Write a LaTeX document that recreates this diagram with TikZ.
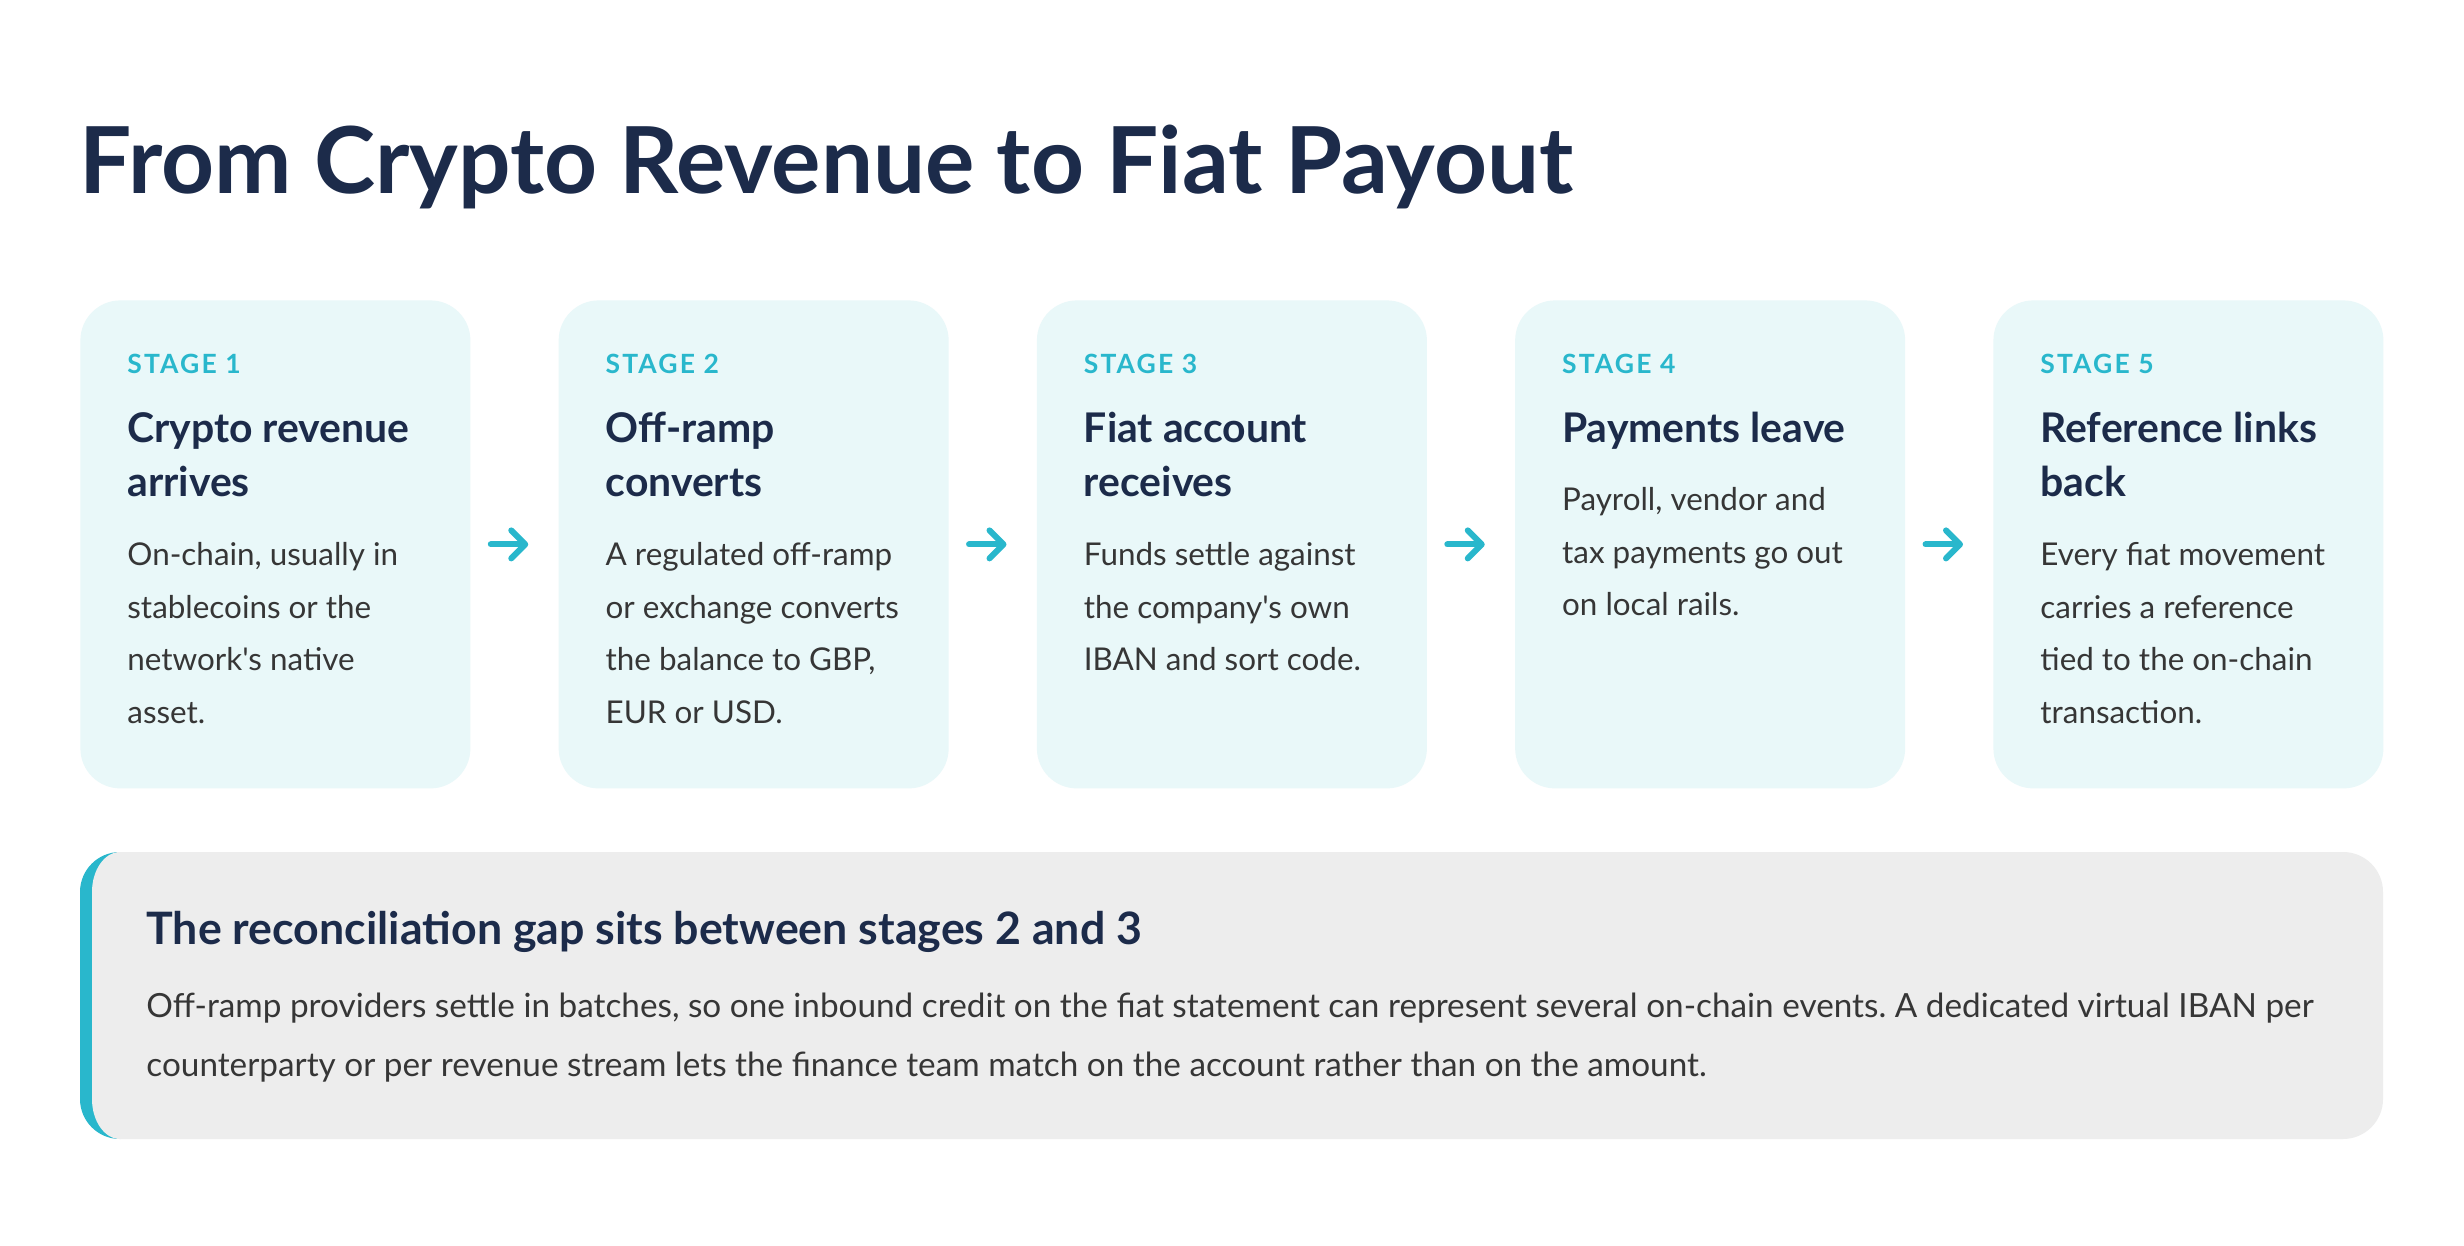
\documentclass[tikz,border=0pt]{standalone}
\usepackage{fontspec}
\setmainfont{Lato}[Ligatures=TeXOff]
\newfontfamily\stagefont[LetterSpace=8]{Lato}
\usetikzlibrary{arrows.meta}
\definecolor{accent}{HTML}{29B7CC}
\definecolor{cardfill}{HTML}{E9F8F9}
\definecolor{navy}{HTML}{1C2B4A}
\definecolor{bodytext}{HTML}{363636}
\definecolor{boxfill}{HTML}{EDEDED}
\frenchspacing
\begin{document}
\frenchspacing
\begin{tikzpicture}[x=0.5pt,y=-0.5pt,
  card/.style={fill=cardfill, draw=none, rounded corners=20pt, minimum width=195pt, minimum height=244pt, inner sep=0pt, anchor=north west},
  stagelbl/.style={anchor=base west, inner sep=0pt, text=accent, font=\stagefont\bfseries\fontsize{13.25pt}{16pt}\selectfont},
  head/.style={anchor=base west, inner sep=0pt, text=navy, font=\bfseries\fontsize{20.45pt}{24pt}\selectfont},
  body/.style={anchor=base west, inner sep=0pt, text=bodytext, font=\fontsize{15.7pt}{19pt}\selectfont},
  gaphead/.style={anchor=base west, inner sep=0pt, text=navy, font=\bfseries\fontsize{22.35pt}{26pt}\selectfont},
  gapbody/.style={anchor=base west, inner sep=0pt, text=bodytext, font=\fontsize{16.65pt}{20pt}\selectfont},
  flow/.style={draw=accent, line width=3pt, line cap=round, line join=round, -{Straight Barb[length=7pt,width=14pt,round]}}
]
\useasboundingbox[fill=white] (0,0) rectangle (2464,1246);

% title
\node[anchor=base west, inner sep=0pt, text=navy, font=\bfseries\fontsize{46.2pt}{50pt}\selectfont] (title) at (79,194) {From Crypto Revenue to Fiat Payout};

% cards
\foreach \i/\x in {1/80, 2/558.25, 3/1036.5, 4/1514.75, 5/1993} {
  \node[card] (c\i) at (\x,300) {};
}
\foreach \a/\b in {1/2, 2/3, 3/4, 4/5} {
  \draw[flow] ([xshift=10pt]c\a.east) -- ([xshift=-15pt]c\b.west);
}

% card 1
\node[stagelbl] (s1) at (127,373) {STAGE 1};
\node[head] (h1a) at (127,442) {Crypto revenue};
\node[head] (h1b) at (127,496) {arrives};
\node[body] (b1a) at (127,565) {On-chain, usually in};
\node[body] (b1b) at (127,618) {stablecoins or the};
\node[body] (b1c) at (127,670) {network's native};
\node[body] (b1d) at (127,723) {asset.};

% card 2
\node[stagelbl] (s2) at (605.25,373) {STAGE 2};
\node[head] (h2a) at (605.25,442) {Off-ramp};
\node[head] (h2b) at (605.25,496) {converts};
\node[body] (b2a) at (605.25,565) {A regulated off-ramp};
\node[body] (b2b) at (605.25,618) {or exchange converts};
\node[body] (b2c) at (605.25,670) {the balance to GBP,};
\node[body] (b2d) at (605.25,723) {EUR or USD.};

% card 3
\node[stagelbl] (s3) at (1083.5,373) {STAGE 3};
\node[head] (h3a) at (1083.5,442) {Fiat account};
\node[head] (h3b) at (1083.5,496) {receives};
\node[body] (b3a) at (1083.5,565) {Funds settle against};
\node[body] (b3b) at (1083.5,618) {the company's own};
\node[body] (b3c) at (1083.5,670) {IBAN and sort code.};

% card 4
\node[stagelbl] (s4) at (1561.75,373) {STAGE 4};
\node[head] (h4a) at (1561.75,442) {Payments leave};
\node[body] (b4a) at (1561.75,510) {Payroll, vendor and};
\node[body] (b4b) at (1561.75,563) {tax payments go out};
\node[body] (b4c) at (1561.75,615) {on local rails.};

% card 5
\node[stagelbl] (s5) at (2040,373) {STAGE 5};
\node[head] (h5a) at (2040,442) {Reference links};
\node[head] (h5b) at (2040,496) {back};
\node[body] (b5a) at (2040,565) {Every fiat movement};
\node[body] (b5b) at (2040,618) {carries a reference};
\node[body] (b5c) at (2040,670) {tied to the on-chain};
\node[body] (b5d) at (2040,723) {transaction.};

% reconciliation gap box: teal left edge, then grey panel
\fill[accent] (120,852) arc[start angle=90,end angle=180,radius=20pt]
  -- (80,1099) arc[start angle=180,end angle=270,radius=20pt] -- cycle;
\fill[boxfill] (120,852) -- (2343,852) arc[start angle=90,end angle=0,radius=20pt]
  -- (2383,1099) arc[start angle=0,end angle=-90,radius=20pt]
  -- (120,1139) arc[start angle=270,end angle=180,x radius=14pt,y radius=20pt]
  -- (92,892) arc[start angle=180,end angle=90,x radius=14pt,y radius=20pt] -- cycle;
\node[gaphead] (gh) at (146,944) {The reconciliation gap sits between stages 2 and 3};
\node[gapbody] (gb1) at (146,1017) {Off-ramp providers settle in batches, so one inbound credit on the fiat statement can represent several on-chain events. A dedicated virtual IBAN per};
\node[gapbody] (gb2) at (146,1076) {counterparty or per revenue stream lets the finance team match on the account rather than on the amount.};
\end{tikzpicture}
\end{document}
